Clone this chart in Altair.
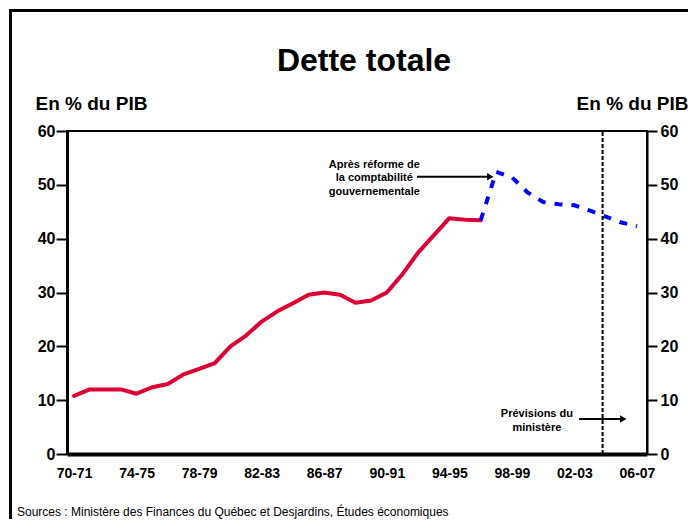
import altair as alt
import pandas as pd

FONT = "Liberation Sans"

# ---- data ----
hist_idx = list(range(0, 27))
hist_val = [10.8, 12.0, 12.0, 12.0, 11.2, 12.4, 13.0, 14.8, 15.8, 16.9,
            20.0, 22.0, 24.6, 26.5, 28.0, 29.6, 30.0, 29.6, 28.1, 28.5,
            30.0, 33.4, 37.4, 40.6, 43.8, 43.5, 43.4]
proj_idx = list(range(26, 37))
proj_val = [43.4, 52.4, 51.4, 48.6, 46.8, 46.4, 46.2, 45.2, 44.1, 43.0, 42.3]

x_tick_pos = [0, 4, 8, 12, 16, 20, 24, 28, 32, 36]
x_tick_labels = ["70-71", "74-75", "78-79", "82-83", "86-87",
                 "90-91", "94-95", "98-99", "02-03", "06-07"]
y_ticks = [0, 10, 20, 30, 40, 50, 60]

title_text = "Dette totale"
axis_title = "En % du PIB"
note1 = ["Après réforme de", "la comptabilité", "gouvernementale"]
note2 = ["Prévisions du", "ministère"]
source_text = "Sources : Ministère des Finances du Québec et Desjardins, Études économiques"
forecast_start = 33.8

hist = pd.DataFrame({"i": hist_idx, "v": hist_val})
proj = pd.DataFrame({"i": proj_idx, "v": proj_val})

labels_js = "[" + ",".join("'%s'" % s for s in x_tick_labels) + "]"
pos_js = "[" + ",".join(str(p) for p in x_tick_pos) + "]"

xscale = alt.Scale(domain=[-0.45, 36.64], nice=False, zero=False)
yscale = alt.Scale(domain=[0, 60], nice=False, zero=False)

x_axis = alt.Axis(values=x_tick_pos, labelExpr=f"{labels_js}[indexof({pos_js}, datum.value)]",
                  title=None, ticks=False, tickSize=0, grid=False, domainWidth=4,
                  domainColor="black", labelFont=FONT, labelFontSize=14,
                  labelFontWeight="bold", labelColor="black", labelPadding=12,
                  labelFlush=False, labelOverlap=False)

def X(f="i"):
    return alt.X(f, type="quantitative", scale=xscale, axis=x_axis)

def Y(f="v", axis=None):
    return alt.Y(f, type="quantitative", scale=yscale, axis=axis)

left_axis = alt.Axis(orient="left", values=y_ticks, grid=False, domainWidth=3,
                     domainColor="black", tickColor="black", tickWidth=2, tickSize=11,
                     labelFont=FONT, labelFontSize=16, labelFontWeight="bold",
                     labelColor="black", labelPadding=1,
                     title=axis_title, titleAngle=0, titleAlign="left",
                     titleBaseline="alphabetic", titleX=-32, titleY=-22,
                     titleFont=FONT, titleFontSize=19, titleFontWeight="bold",
                     titleColor="black")
right_axis = alt.Axis(orient="right", values=y_ticks, grid=False, domainWidth=2,
                      domainColor="black", tickColor="black", tickWidth=2, tickSize=10,
                      labelFont=FONT, labelFontSize=16, labelFontWeight="bold",
                      labelColor="black", labelPadding=3,
                      title=axis_title, titleAngle=0, titleAlign="right",
                      titleBaseline="alphabetic", titleX=41, titleY=-22,
                      titleFont=FONT, titleFontSize=19, titleFontWeight="bold",
                      titleColor="black")

red = alt.Chart(hist).mark_line(color="#DC0035", strokeWidth=4, strokeJoin="round",
                                strokeCap="round").encode(x=X(), y=Y(axis=left_axis))
blue = alt.Chart(proj).mark_line(color="#0000FF", strokeWidth=4, strokeDash=[8, 9],
                                 strokeCap="butt").encode(x=X(), y=Y(axis=right_axis))

vline = alt.Chart(pd.DataFrame({"i": [forecast_start], "y0": [0], "y1": [60]})).mark_rule(
    color="black", strokeWidth=2, strokeDash=[4, 2]).encode(
    x=X(), y=Y("y0"), y2="y1")

notes = pd.DataFrame({
    "i": [19.2, 19.2, 19.2, 29.6, 29.6],
    "v": [53.7, 51.2, 48.7, 7.4, 4.85],
    "t": note1 + note2,
})
note_text = alt.Chart(notes).mark_text(font=FONT, fontSize=11, fontWeight="bold",
                                       color="black", align="center",
                                       baseline="middle").encode(x=X(), y=Y(), text="t")

arrows = pd.DataFrame({"i": [21.93, 32.3], "i2": [26.5, 35.0], "v": [51.5, 6.5]})
arrow_lines = alt.Chart(arrows).mark_rule(color="black", strokeWidth=2).encode(
    x=X(), x2="i2", y=Y())
heads = pd.DataFrame({"i": [26.62, 35.12], "v": [51.5, 6.5]})
arrow_heads = alt.Chart(heads).mark_point(shape="triangle-right", filled=True,
                                          color="black", size=55, opacity=1).encode(
    x=X(), y=Y())

one = pd.DataFrame({"t": [title_text]})
title = alt.Chart(one).mark_text(font=FONT, fontSize=32, fontWeight="bold",
                                 color="black", align="center",
                                 baseline="alphabetic").encode(
    x=alt.value(297), y=alt.value(-60), text="t")

src = alt.Chart(pd.DataFrame({"t": [source_text]})).mark_text(
    font=FONT, fontSize=12, color="black", align="left", baseline="alphabetic").encode(
    x=alt.value(-50), y=alt.value(385), text="t")

frame_df = pd.DataFrame({"a": [0]})
frame_left = alt.Chart(frame_df).mark_rule(color="black", strokeWidth=3).encode(
    x=alt.value(-56.5), y=alt.value(-122), y2=alt.value(390))
frame_top = alt.Chart(frame_df).mark_rule(color="black", strokeWidth=3).encode(
    x=alt.value(-58), x2=alt.value(625), y=alt.value(-120.5))

chart = alt.layer(
    red, blue, vline, note_text, arrow_lines, arrow_heads, title, src,
    frame_left, frame_top,
).resolve_scale(y="shared").resolve_axis(y="independent").properties(
    width=580, height=323,
    autosize=alt.AutoSizeParams(type="none"),
    padding={"left": 59, "top": 123, "right": 41, "bottom": 65},
    background="white",
).configure_view(stroke="black", strokeWidth=2)

chart.save("out.html", embed_options={"renderer": "svg", "actions": False})
